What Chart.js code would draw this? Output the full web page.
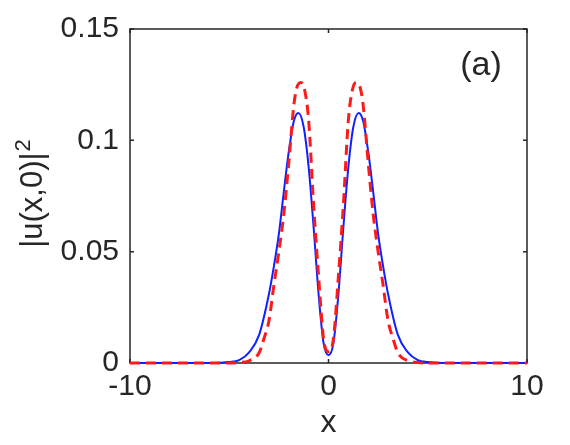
<!DOCTYPE html>
<html>
<head>
<meta charset="utf-8">
<title>|u(x,0)|^2</title>
<script src="https://cdn.jsdelivr.net/npm/chart.js@4.4.1/dist/chart.umd.min.js"></script>
<style>
  html, body { margin: 0; padding: 0; background: #fff; }
  #wrap { width: 570px; height: 445px; position: relative; }
</style>
</head>
<body>
<div id="wrap"><canvas id="profileChart"></canvas></div>
<script>
// --- data ---
const blueX = [-10, -7, -6, -5.5, -5, -4.5, -4, -3.5, -3, -2.75, -2.5, -2.25, -2, -1.75, -1.52, -1.25, -1, -0.75, -0.5, -0.25, 0,
               0.25, 0.5, 0.75, 1, 1.25, 1.52, 1.75, 2, 2.25, 2.5, 2.75, 3, 3.5, 4, 4.5, 5, 5.5, 6, 7, 10];
const blueY = [0, 0, 0, 0.0001, 0.0004, 0.0013, 0.0048, 0.0125, 0.031, 0.0435, 0.058, 0.077, 0.095, 0.1085, 0.1123, 0.106, 0.088, 0.061, 0.031, 0.009, 0.0035,
               0.009, 0.031, 0.061, 0.088, 0.106, 0.1123, 0.1085, 0.095, 0.077, 0.058, 0.0435, 0.031, 0.0125, 0.0048, 0.0013, 0.0004, 0.0001, 0, 0, 0];

const redX = [-10, -6, -5, -4.5, -4, -3.5, -3.25, -3, -2.75, -2.5, -2.25, -2, -1.75, -1.6, -1.4, -1.2, -1, -0.75, -0.5, -0.25, 0,
              0.25, 0.5, 0.75, 1, 1.2, 1.4, 1.6, 1.75, 2, 2.25, 2.5, 2.75, 3, 3.25, 3.5, 4, 4.5, 5, 6, 10];
const redY = [0, 0, 0, 0.0002, 0.001, 0.0045, 0.011, 0.019, 0.035, 0.050, 0.067, 0.090, 0.1155, 0.1235, 0.126, 0.1225, 0.109, 0.071, 0.039, 0.011, 0.005,
              0.011, 0.039, 0.071, 0.109, 0.1225, 0.126, 0.1235, 0.1155, 0.090, 0.067, 0.050, 0.035, 0.019, 0.011, 0.0045, 0.001, 0.0002, 0, 0, 0];

const xTicks = [-10, 0, 10];
const yTicks = [0, 0.05, 0.1, 0.15];

const FONT = "'Liberation Sans', Arial, Helvetica, sans-serif";
const INK = '#262626';

// --- frame with inward ticks, y label and panel tag ---
const framePlugin = {
  id: 'frame',
  beforeDatasetsDraw(chart) {
    const { ctx, chartArea: a, scales: { x, y } } = chart;
    ctx.save();
    ctx.strokeStyle = INK;
    ctx.lineWidth = 1.5;
    ctx.strokeRect(a.left, a.top, a.right - a.left, a.bottom - a.top);
    const len = 4;
    ctx.beginPath();
    x.ticks.forEach(t => {
      const px = x.getPixelForValue(t.value);
      ctx.moveTo(px, a.bottom); ctx.lineTo(px, a.bottom - len);
      ctx.moveTo(px, a.top); ctx.lineTo(px, a.top + len);
    });
    y.ticks.forEach(t => {
      const py = y.getPixelForValue(t.value);
      ctx.moveTo(a.left, py); ctx.lineTo(a.left + len, py);
      ctx.moveTo(a.right, py); ctx.lineTo(a.right - len, py);
    });
    ctx.stroke();
    ctx.restore();
  },
  afterDraw(chart) {
    const { ctx, chartArea: a } = chart;
    ctx.save();
    ctx.fillStyle = INK;
    // panel tag
    ctx.font = `34px ${FONT}`;
    ctx.textAlign = 'center';
    ctx.textBaseline = 'alphabetic';
    ctx.fillText('(a)', 481, 75);
    // y axis label with superscript
    const main = '|u(x,0)|', sup = '2';
    ctx.font = `31px ${FONT}`;
    const wMain = ctx.measureText(main).width;
    ctx.font = `22px ${FONT}`;
    const wSup = ctx.measureText(sup).width;
    const cy = (a.top + a.bottom) / 2;
    ctx.translate(42, cy - 2);
    ctx.rotate(-Math.PI / 2);
    ctx.textAlign = 'left';
    const start = -(wMain + wSup) / 2;
    ctx.font = `31px ${FONT}`;
    ctx.fillText(main, start, 0);
    ctx.font = `22px ${FONT}`;
    ctx.fillText(sup, start + wMain + 1, -12);
    ctx.restore();
  }
};

const ctx = document.getElementById('profileChart').getContext('2d');

new Chart(ctx, {
  type: 'scatter',
  data: {
    datasets: [
      {
        label: 'dashed',
        data: redX.map((v, i) => ({ x: v, y: redY[i] })),
        showLine: true,
        borderColor: '#ff1a1a',
        borderWidth: 3,
        borderDash: [10, 6],
        pointRadius: 0,
        cubicInterpolationMode: 'monotone',
        clip: false
      },
      {
        label: 'solid',
        data: blueX.map((v, i) => ({ x: v, y: blueY[i] })),
        showLine: true,
        borderColor: '#1020ff',
        borderWidth: 2,
        pointRadius: 0,
        cubicInterpolationMode: 'monotone',
        clip: false
      }
    ]
  },
  options: {
    responsive: true,
    maintainAspectRatio: false,
    animation: false,
    devicePixelRatio: 1,
    layout: { padding: { top: 28, right: 43, left: 0, bottom: 0 } },
    plugins: { legend: { display: false }, tooltip: { enabled: false } },
    scales: {
      x: {
        type: 'linear',
        min: -10, max: 10,
        border: { display: false },
        grid: { display: false, drawTicks: false },
        afterBuildTicks: s => { s.ticks = xTicks.map(v => ({ value: v })); },
        afterFit: s => { s.height = 82; },
        ticks: {
          padding: 6,
          color: INK,
          font: { family: FONT, size: 30 },
          maxRotation: 0,
          callback: v => String(v)
        },
        title: {
          display: true,
          text: 'x',
          color: INK,
          font: { family: FONT, size: 32 },
          padding: { top: 0, bottom: 3 }
        }
      },
      y: {
        type: 'linear',
        min: 0, max: 0.15,
        border: { display: false },
        grid: { display: false, drawTicks: false },
        afterBuildTicks: s => { s.ticks = yTicks.map(v => ({ value: v })); },
        afterFit: s => { s.width = 130; },
        ticks: {
          padding: 11,
          color: INK,
          font: { family: FONT, size: 30 },
          callback: v => v === 0 ? '0' : String(+v.toFixed(2))
        }
      }
    }
  },
  plugins: [framePlugin]
});
</script>
</body>
</html>
